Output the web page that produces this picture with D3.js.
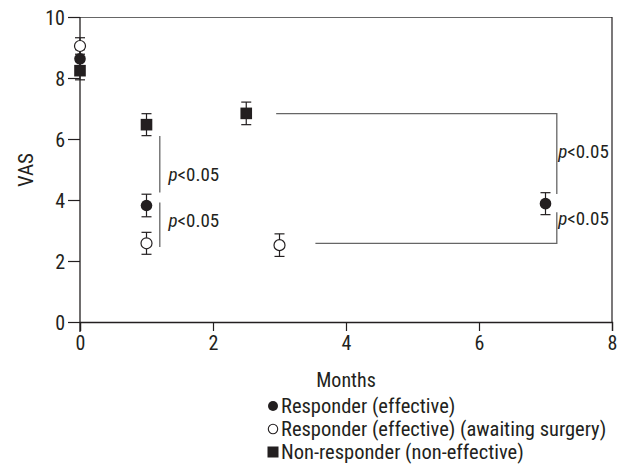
<!DOCTYPE html>
<html><head><meta charset="utf-8">
<script src="https://cdn.jsdelivr.net/npm/d3@7"></script>
<style>body{margin:0;background:#fff}text{font-family:"Liberation Sans Narrow","Roboto Condensed","Arial Narrow",sans-serif;fill:#231f20}</style>
</head><body><svg id="c" width="626" height="470"></svg>
<script>
const seriesNames = ["Responder (effective)", "Responder (effective) (awaiting surgery)", "Non-responder (non-effective)"];
const respMonths = [0, 1, 7];
const respVAS = [8.63, 3.82, 3.88];
const respErr = [0.3, 0.37, 0.36];
const awaitMonths = [0, 1, 3];
const awaitVAS = [9.05, 2.58, 2.52];
const awaitErr = [0.27, 0.36, 0.37];
const nonMonths = [0, 1, 2.5];
const nonVAS = [8.24, 6.47, 6.84];
const nonErr = [0.3, 0.36, 0.37];
const xTicks = [0, 2, 4, 6, 8];
const yTicks = [0, 2, 4, 6, 8, 10];
const pLabel = "p";
const pRest = "<0.05";

const svg = d3.select("#c");
const x = d3.scaleLinear().domain([0, 8]).range([80, 612]);
const y = d3.scaleLinear().domain([0, 10]).range([322, 17]);
const ink = "#231f20", lineC = "#666";

// frame
svg.append("line").attr("x1", 80).attr("x2", 612).attr("y1", 17.5).attr("y2", 17.5).attr("stroke", lineC).attr("stroke-width", 1.2);
svg.append("line").attr("x1", 612).attr("x2", 612).attr("y1", 17).attr("y2", 322).attr("stroke", ink).attr("stroke-width", 1.2);

const xa = svg.append("g").attr("transform", "translate(0,322)")
  .call(d3.axisBottom(x).tickValues(xTicks).tickSize(9).tickPadding(3).tickFormat(d3.format("d")));
const ya = svg.append("g").attr("transform", "translate(80,0)")
  .call(d3.axisLeft(y).tickValues(yTicks).tickSize(12).tickPadding(3).tickFormat(d3.format("d")));
[xa, ya].forEach(a => {
  a.select(".domain").attr("stroke", ink).attr("stroke-width", 1.3);
  a.selectAll(".tick line").attr("stroke", ink).attr("stroke-width", 1.2);
  a.selectAll("text").style("font-size", "20px").attr("fill", ink);
});
ya.select(".domain").attr("d", "M0,17V332");
xa.selectAll("text").attr("dy", "0.8em");
ya.selectAll("text").attr("dy", "0.35em");

svg.append("text").attr("x", 346).attr("y", 387).attr("text-anchor", "middle").style("font-size", "20px").text("Months");
svg.append("text").attr("transform", "translate(33,170) rotate(-90)").attr("text-anchor", "middle").style("font-size", "21px").text("VAS");

// annotation brackets
const br = svg.append("g").attr("stroke", lineC).attr("stroke-width", 1.3).attr("fill", "none");
br.append("line").attr("x1", x(1.2)).attr("x2", x(1.2)).attr("y1", y(6.1)).attr("y2", y(4.25));
br.append("line").attr("x1", x(1.2)).attr("x2", x(1.2)).attr("y1", y(3.92)).attr("y2", y(2.46));
br.append("path").attr("d", `M${x(2.95)},${y(6.83)}H${x(7.17)}V${y(4.2)}`);
br.append("path").attr("d", `M${x(3.54)},${y(2.58)}H${x(7.17)}V${y(3.6)}`);

function pText(px, py) {
  const t = svg.append("text").attr("x", px).attr("y", py).style("font-size", "19px");
  t.append("tspan").attr("font-style", "italic").text(pLabel);
  t.append("tspan").text(pRest);
}
pText(x(1.33), y(4.85) + 7);
pText(x(1.33), y(3.33) + 7);
pText(x(7.19), y(5.6) + 7);
pText(x(7.19), y(3.4) + 7);

// error bars + markers
function errBars(months, vals, errs) {
  const g = svg.append("g").attr("stroke", ink).attr("stroke-width", 1.2);
  months.forEach((m, i) => {
    const cx = x(m), t = y(vals[i] + errs[i]), b = y(vals[i] - errs[i]);
    g.append("line").attr("x1", cx).attr("x2", cx).attr("y1", t).attr("y2", b);
    g.append("line").attr("x1", cx - 5).attr("x2", cx + 5).attr("y1", t).attr("y2", t);
    g.append("line").attr("x1", cx - 5).attr("x2", cx + 5).attr("y1", b).attr("y2", b);
  });
}
errBars(awaitMonths, awaitVAS, awaitErr);
errBars(respMonths, respVAS, respErr);
errBars(nonMonths, nonVAS, nonErr);

svg.append("g").selectAll("circle").data(awaitMonths).join("circle")
  .attr("cx", d => x(d)).attr("cy", (d, i) => y(awaitVAS[i])).attr("r", 5.5)
  .attr("fill", "#fff").attr("stroke", ink).attr("stroke-width", 1.2);
svg.append("g").selectAll("circle").data(respMonths).join("circle")
  .attr("cx", d => x(d)).attr("cy", (d, i) => y(respVAS[i])).attr("r", 5.8)
  .attr("fill", ink);
svg.append("g").selectAll("rect").data(nonMonths).join("rect")
  .attr("x", d => x(d) - 5.8).attr("y", (d, i) => y(nonVAS[i]) - 5.8).attr("width", 11.6).attr("height", 11.6)
  .attr("fill", ink);

// legend
const leg = svg.append("g");
const ly = [406, 429, 452];
seriesNames.forEach((n, i) => {
  const cx = 273, cy = ly[i];
  if (i === 0) leg.append("circle").attr("cx", cx).attr("cy", cy).attr("r", 5).attr("fill", ink);
  if (i === 1) leg.append("circle").attr("cx", cx).attr("cy", cy).attr("r", 4.7).attr("fill", "#fff").attr("stroke", ink).attr("stroke-width", 1.1);
  if (i === 2) leg.append("rect").attr("x", cx - 5.5).attr("y", cy - 5.5).attr("width", 11).attr("height", 11).attr("fill", ink);
  leg.append("text").attr("x", 281).attr("y", cy + 7).style("font-size", "20.5px").text(n);
});
</script></body></html>
